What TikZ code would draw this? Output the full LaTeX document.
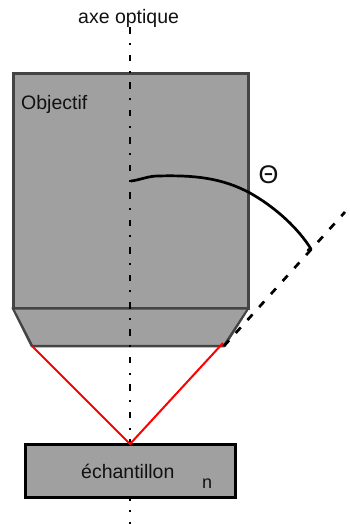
\documentclass[tikz,border=0pt]{standalone}
\usepackage{fontspec}
\setmainfont{Liberation Sans}
\definecolor{bodyfill}{HTML}{A0A0A0}
\definecolor{edge}{HTML}{444444}
\definecolor{ink}{HTML}{111111}
\tikzset{
  part/.style={draw=edge,fill=bodyfill,line width=2.9pt,line join=round},
  raydash/.style={black,line width=2.7pt,dash pattern=on 7.5pt off 10pt},
  ray/.style={red,line width=2pt},
  label/.style={inner sep=0pt,text=ink,font=\fontsize{19.5pt}{22pt}\selectfont},
}
\begin{document}
\begin{tikzpicture}[x=1pt,y=-1pt]
\useasboundingbox (0,0) rectangle (350,524);
\fill[white] (0,0) rectangle (350,524);
\coordinate (lensR) at (224,346);
\coordinate (lensL) at (32,346);
\coordinate (focus) at (130,444);
\coordinate (rayend) at (345,212);
\coordinate (arcstart) at (131,181);
\coordinate (arcend) at (311,249);
\draw[part] (13,308) -- (248,308) -- (lensR) -- (lensL) -- cycle;
\fill[edge] (11.5,72.5) rectangle (249.5,309.5);
\fill[bodyfill] (14.5,75.5) rectangle (246.5,306.5);
\fill[bodyfill] (14.8,309.5) -- (246.2,309.5) -- (223,344.5) -- (33,344.5) -- cycle;
\foreach \k in {0,...,18}{
  \fill[black] (128.7,{27.5+27.45*\k}) rectangle (131.3,{34+27.45*\k});
  \fill[black] (129,{43.2+27.45*\k}) rectangle (131,{45.2+27.45*\k});
}
\draw[raydash] (lensR) -- (rayend);
\draw[black,line width=2.7pt,line cap=round,line join=round]
  (arcstart) .. controls (140,180) and (148,176) .. (158,176)
  .. controls (195,175) and (222,178) .. (250,193)
  .. controls (275,207) and (298,228) .. (arcend) -- (308,250);
\fill[black] (24,442.5) rectangle (237,498.5);
\fill[bodyfill] (27,445.5) rectangle (234,495.5);
\draw[ray] (lensL) -- (focus) -- (223,343);
\node[label,anchor=base west] (axe) at (78,24) {axe optique};
\node[label,anchor=base west] (obj) at (21,110) {Objectif};
\node[label,anchor=base west] (ech) at (81,478) {échantillon};
\node[inner sep=0pt,text=ink,anchor=base west,font=\fontsize{18pt}{20pt}\selectfont] (n) at (202,488) {n};
\node[inner sep=0pt,text=ink,anchor=base west,font=\fontsize{25.5pt}{28pt}\selectfont] (theta) at (258.5,183) {Θ};
\end{tikzpicture}
\end{document}
